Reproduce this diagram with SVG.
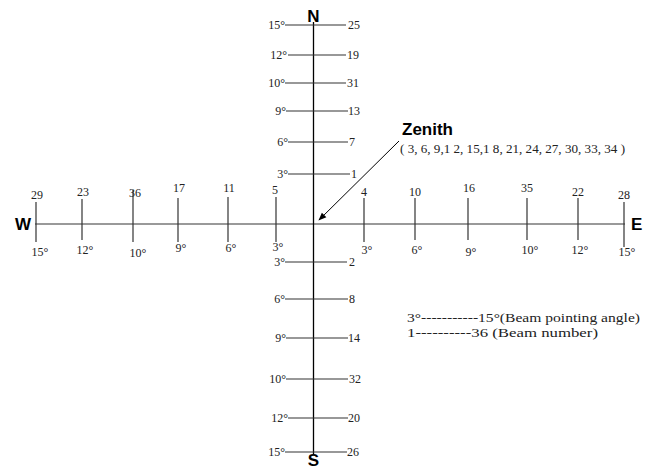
<svg xmlns="http://www.w3.org/2000/svg" width="653" height="470" viewBox="0 0 653 470">
<style>
.n{font-family:"Liberation Serif","Times New Roman",serif;font-size:12px;fill:#222}
.c{text-anchor:middle}
.e{text-anchor:end}
.dir{font-family:"Liberation Sans",Arial,sans-serif;font-size:17px;font-weight:bold;fill:#000}
.tk{stroke:#333;stroke-width:1.2;fill:none}
.ax{stroke:#000;stroke-width:1.3;fill:none}
.hx{stroke:#777;stroke-width:1.6;fill:none}
</style>
<defs>
<marker id="ah" viewBox="0 0 10 10" refX="9" refY="5" markerWidth="8" markerHeight="8" orient="auto" markerUnits="userSpaceOnUse">
<path d="M0,1 L10,5 L0,9 z" fill="#000"/>
</marker>
</defs>
<rect width="653" height="470" fill="#fff"/>
<g id="connectors">
<line class="hx" x1="35" y1="224" x2="625" y2="224"/>
<line class="ax" x1="313.5" y1="22" x2="313.5" y2="454"/>
<line class="tk" x1="285" y1="25" x2="346" y2="25"/>
<line class="tk" x1="288" y1="55" x2="346" y2="55"/>
<line class="tk" x1="285" y1="83" x2="346" y2="83"/>
<line class="tk" x1="286" y1="111" x2="348" y2="111"/>
<line class="tk" x1="288" y1="142" x2="348" y2="142"/>
<line class="tk" x1="288" y1="174" x2="350" y2="174"/>
<line class="tk" x1="285" y1="262" x2="347" y2="262"/>
<line class="tk" x1="285" y1="299" x2="348" y2="299"/>
<line class="tk" x1="286" y1="338" x2="348" y2="338"/>
<line class="tk" x1="286" y1="379" x2="348" y2="379"/>
<line class="tk" x1="288" y1="418" x2="348" y2="418"/>
<line class="tk" x1="285" y1="452" x2="347" y2="452"/>
<line class="tk" x1="36" y1="202" x2="36" y2="242"/>
<line class="tk" x1="82" y1="199" x2="82" y2="240"/>
<line class="tk" x1="133" y1="190" x2="133" y2="242"/>
<line class="tk" x1="178" y1="198" x2="178" y2="242"/>
<line class="tk" x1="228" y1="197" x2="228" y2="242"/>
<line class="tk" x1="276" y1="197" x2="276" y2="242"/>
<line class="tk" x1="364" y1="198" x2="364" y2="242"/>
<line class="tk" x1="415" y1="198" x2="415" y2="240"/>
<line class="tk" x1="468" y1="198" x2="468" y2="240"/>
<line class="tk" x1="527" y1="198" x2="527" y2="240"/>
<line class="tk" x1="578" y1="198" x2="578" y2="240"/>
<line class="tk" x1="624" y1="202" x2="624" y2="247"/>
<line x1="399" y1="141" x2="319" y2="220" stroke="#000" stroke-width="1" marker-end="url(#ah)"/>
</g>
<g id="dir-N"><text class="dir c" x="313.5" y="22">N</text></g>
<g id="dir-S"><text class="dir c" x="313.5" y="466" font-size="16">S</text></g>
<g id="dir-W"><text class="dir" x="15" y="230">W</text></g>
<g id="dir-E"><text class="dir" x="631" y="230">E</text></g>
<g id="n-labels">
<text class="n e" x="285" y="29">15°</text><text class="n" x="348" y="29">25</text>
<text class="n e" x="287" y="59">12°</text><text class="n" x="347" y="59">19</text>
<text class="n e" x="285" y="87">10°</text><text class="n" x="347" y="87">31</text>
<text class="n e" x="286" y="115">9°</text><text class="n" x="348" y="115">13</text>
<text class="n e" x="288" y="146">6°</text><text class="n" x="349" y="146">7</text>
<text class="n e" x="288" y="178">3°</text><text class="n" x="351" y="178">1</text>
</g>
<g id="s-labels">
<text class="n e" x="285" y="266">3°</text><text class="n" x="349" y="266">2</text>
<text class="n e" x="285" y="303">6°</text><text class="n" x="349" y="303">8</text>
<text class="n e" x="286" y="342">9°</text><text class="n" x="348" y="342">14</text>
<text class="n e" x="286" y="383">10°</text><text class="n" x="349" y="383">32</text>
<text class="n e" x="288" y="422">12°</text><text class="n" x="348" y="422">20</text>
<text class="n e" x="285" y="456">15°</text><text class="n" x="347" y="456">26</text>
</g>
<g id="w-labels">
<text class="n c" x="37" y="199">29</text><text class="n c" x="40" y="256">15°</text>
<text class="n c" x="83" y="196">23</text><text class="n c" x="85" y="254">12°</text>
<text class="n c" x="135" y="197">36</text><text class="n c" x="138" y="257">10°</text>
<text class="n c" x="179" y="192">17</text><text class="n c" x="181" y="252">9°</text>
<text class="n c" x="229" y="192">11</text><text class="n c" x="231" y="252">6°</text>
<text class="n c" x="275" y="194">5</text><text class="n c" x="278" y="251">3°</text>
</g>
<g id="e-labels">
<text class="n c" x="364" y="196">4</text><text class="n c" x="367" y="254">3°</text>
<text class="n c" x="415" y="196">10</text><text class="n c" x="417" y="254">6°</text>
<text class="n c" x="469" y="192">16</text><text class="n c" x="471" y="256">9°</text>
<text class="n c" x="527" y="192">35</text><text class="n c" x="530" y="254">10°</text>
<text class="n c" x="578" y="196">22</text><text class="n c" x="580" y="254">12°</text>
<text class="n c" x="624" y="199">28</text><text class="n c" x="627" y="256">15°</text>
</g>
<g id="zenith">
<text class="dir" x="402" y="135">Zenith</text>
<text class="n" x="400" y="153" textLength="225" lengthAdjust="spacingAndGlyphs">( 3, 6, 9,1 2, 15,1 8, 21, 24, 27, 30, 33, 34 )</text>
</g>
<g id="legend">
<text class="n" x="407" y="322" font-size="13" textLength="233" lengthAdjust="spacingAndGlyphs">3°-----------15°(Beam pointing angle)</text>
<text class="n" x="407" y="337" font-size="13" textLength="191" lengthAdjust="spacingAndGlyphs">1----------36  (Beam number)</text>
</g>
</svg>
